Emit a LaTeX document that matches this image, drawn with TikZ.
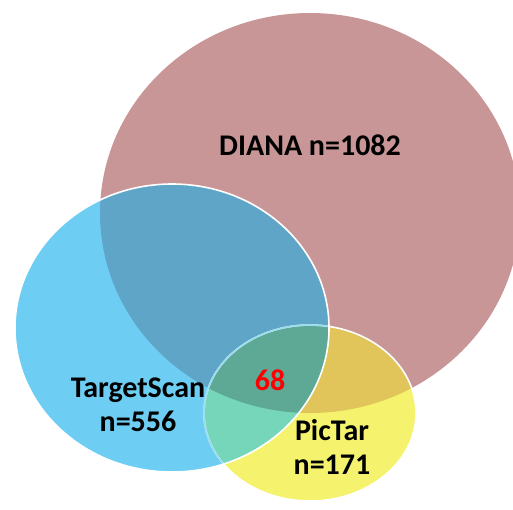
\documentclass[tikz,border=0pt]{standalone}
\usepackage{fontspec}
\setmainfont{Carlito}
\usetikzlibrary{positioning}
% region colours of the three-set diagram
\definecolor{dianafill}{HTML}{C99698}
\definecolor{tscanfill}{HTML}{6DCDF2}
\definecolor{tscandiana}{HTML}{5FA5C8}
\definecolor{pictarfill}{HTML}{F5F36E}
\definecolor{pictardiana}{HTML}{E1C55A}
\definecolor{tscanpictar}{HTML}{76D6BA}
\definecolor{allthree}{HTML}{5EA996}
\definecolor{pictarrim}{HTML}{9ADDEF}
\tikzset{
  dianaset/.style={insert path={(310,213) ellipse [x radius=210,y radius=200]}},
  tscanset/.style={insert path={(172,328) ellipse [x radius=157,y radius=144]}},
  pictarset/.style={insert path={(310,413) ellipse [x radius=106,y radius=88]}},
  setlabel/.style={font=\fontsize{30}{34}\selectfont\bfseries,align=center,
    inner sep=0pt},
  countlabel/.style={setlabel,text=red},
  setrim/.style={draw=white,line width=1.6pt}
}
\begin{document}
\begin{tikzpicture}[x=1pt,y=-1pt]
  \useasboundingbox (0,0) rectangle (513,509);

  % DIANA
  \fill[dianafill] [dianaset];

  % TargetScan, darker where it lies on DIANA
  \fill[tscanfill] [tscanset];
  \begin{scope}
    \clip [dianaset];
    \fill[tscandiana] [tscanset];
  \end{scope}

  % PicTar and its overlaps
  \fill[pictarfill] [pictarset];
  \begin{scope}
    \clip [dianaset];
    \fill[pictardiana] [pictarset];
  \end{scope}
  \begin{scope}
    \clip [tscanset];
    \fill[tscanpictar] [pictarset];
    \clip [dianaset];
    \fill[allthree] [pictarset];
  \end{scope}

  % white rims
  \draw[setrim] [pictarset];
  \begin{scope}
    \clip [tscanset];
    \draw[setrim,draw=pictarrim] [pictarset];
  \end{scope}
  \draw[setrim] [tscanset];

  % labels
  \node[setlabel] (diana) at (310,145) {DIANA n=1082};
  \node[setlabel] (tscan) at (138,405) {TargetScan\\n=556};
  \node[setlabel] (pictar) at (332,447) {PicTar\\n=171};
  \node[countlabel] (common) at (270,380) {68};
\end{tikzpicture}
\end{document}
